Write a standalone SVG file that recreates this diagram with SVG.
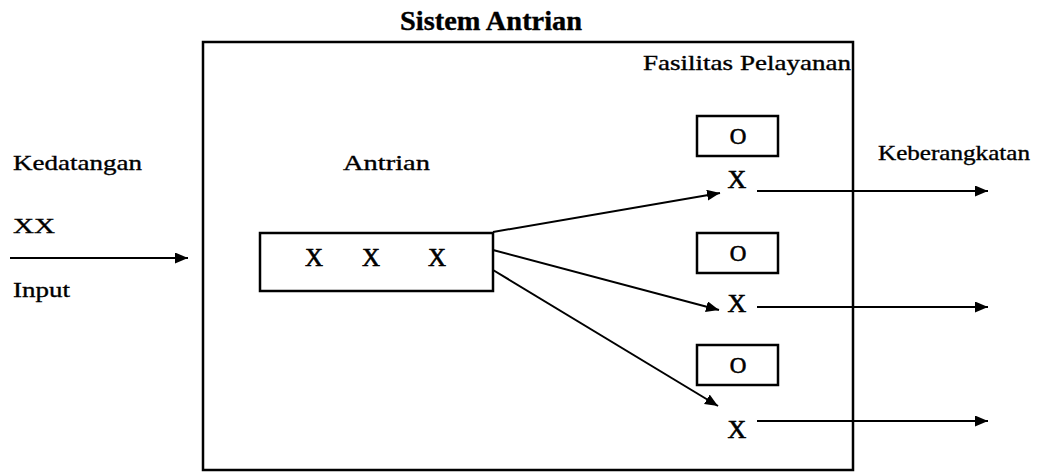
<svg xmlns="http://www.w3.org/2000/svg" width="1042" height="473" viewBox="0 0 1042 473">
  <style>
    .frame { fill: none; stroke: #000; stroke-width: 2.5; }
    .box { fill: #fff; stroke: #000; stroke-width: 2.5; }
    .lbl { font-family: "Liberation Serif", "Times New Roman", serif; fill: #000; stroke: #000; stroke-width: 0.35; }
    .mark { font-family: "Liberation Serif", "Times New Roman", serif; fill: #000; stroke: #000; stroke-width: 0.6; }
    .edge { fill: none; stroke: #000; stroke-width: 2; }
  </style>
  <defs>
    <marker id="arrow" markerUnits="userSpaceOnUse" markerWidth="14" markerHeight="12" refX="13" refY="5.5" orient="auto">
      <path d="M0,0 L13,5.5 L0,11 z" fill="#000"/>
    </marker>
  </defs>

  <rect width="1042" height="473" fill="#fff"/>

  <!-- system boundary -->
  <g id="sistem-antrian">
    <rect class="frame" x="203" y="42" width="650" height="428"/>
    <text class="lbl" x="400" y="30" font-size="27" font-weight="bold" textLength="182" lengthAdjust="spacingAndGlyphs">Sistem Antrian</text>
    <text class="lbl" x="643" y="70" font-size="21" textLength="208" lengthAdjust="spacingAndGlyphs">Fasilitas Pelayanan</text>
  </g>

  <!-- arrivals -->
  <g id="kedatangan">
    <text class="lbl" x="13" y="170" font-size="22" textLength="129" lengthAdjust="spacingAndGlyphs">Kedatangan</text>
    <text class="lbl" x="13" y="233" font-size="22" textLength="42" lengthAdjust="spacingAndGlyphs">XX</text>
    <text class="lbl" x="13" y="297" font-size="22" textLength="57" lengthAdjust="spacingAndGlyphs">Input</text>
  </g>

  <!-- queue -->
  <g id="antrian">
    <text class="lbl" x="343" y="170" font-size="22" textLength="87" lengthAdjust="spacingAndGlyphs">Antrian</text>
    <rect class="box" x="260" y="233" width="233" height="58"/>
    <text class="mark" x="314" y="266" font-size="25" text-anchor="middle">X</text>
    <text class="mark" x="371" y="266" font-size="25" text-anchor="middle">X</text>
    <text class="mark" x="437" y="266" font-size="25" text-anchor="middle">X</text>
  </g>

  <!-- service channels -->
  <g id="server-1">
    <rect class="box" x="697" y="116" width="81" height="40"/>
    <text class="mark" x="738" y="144" font-size="23" text-anchor="middle">O</text>
    <text class="mark" x="737" y="188" font-size="26" text-anchor="middle">X</text>
  </g>
  <g id="server-2">
    <rect class="box" x="697" y="233" width="81" height="40"/>
    <text class="mark" x="738" y="261" font-size="23" text-anchor="middle">O</text>
    <text class="mark" x="737" y="312" font-size="26" text-anchor="middle">X</text>
  </g>
  <g id="server-3">
    <rect class="box" x="697" y="345" width="81" height="40"/>
    <text class="mark" x="738" y="373" font-size="23" text-anchor="middle">O</text>
    <text class="mark" x="737" y="438" font-size="26" text-anchor="middle">X</text>
  </g>

  <!-- departures -->
  <g id="keberangkatan">
    <text class="lbl" x="878" y="160" font-size="21" textLength="152" lengthAdjust="spacingAndGlyphs">Keberangkatan</text>
  </g>

  <!-- connectors -->
  <g id="connectors">
    <line class="edge" x1="10" y1="258" x2="188" y2="258" marker-end="url(#arrow)"/>
    <line class="edge" x1="493" y1="232" x2="720" y2="193" marker-end="url(#arrow)"/>
    <line class="edge" x1="493" y1="250" x2="719" y2="310" marker-end="url(#arrow)"/>
    <line class="edge" x1="493" y1="270" x2="718" y2="406" marker-end="url(#arrow)"/>
    <line class="edge" x1="757" y1="191" x2="988" y2="191" marker-end="url(#arrow)"/>
    <line class="edge" x1="757" y1="307" x2="988" y2="307" marker-end="url(#arrow)"/>
    <line class="edge" x1="757" y1="421" x2="988" y2="421" marker-end="url(#arrow)"/>
  </g>
</svg>
